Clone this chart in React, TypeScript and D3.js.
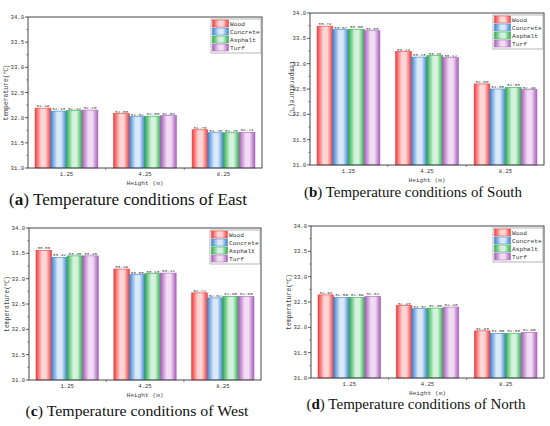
import React from 'react';
import * as d3 from 'd3';

const heights = ['1.25', '4.25', '8.25'];
const materials = ['Wood', 'Concrete', 'Asphalt', 'Turf'];

// values per height, one entry per material
const eastValues = [
  [32.19, 32.13, 32.14, 32.15],
  [32.08, 32.02, 32.03, 32.04],
  [31.76, 31.70, 31.70, 31.71],
];
const southValues = [
  [33.74, 33.67, 33.68, 33.65],
  [33.24, 33.13, 33.16, 33.12],
  [32.60, 32.50, 32.53, 32.49],
];
const westValues = [
  [33.56, 33.42, 33.45, 33.45],
  [33.19, 33.08, 33.10, 33.11],
  [32.72, 32.62, 32.65, 32.65],
];
const northValues = [
  [32.64, 32.59, 32.59, 32.61],
  [32.43, 32.37, 32.38, 32.40],
  [31.93, 31.88, 31.88, 31.90],
];

const yTicks = [31.0, 31.5, 32.0, 32.5, 33.0, 33.5, 34.0];

const edgeColors = ['#f23c3c', '#3d82cf', '#2fae4e', '#a95fba'];
const lightColors = ['#ffd6d6', '#d9e9f8', '#d4f2dc', '#f2dcf4'];

const monoFont = '"Liberation Mono", "DejaVu Sans Mono", monospace';
const serifFont = '"Liberation Serif", "DejaVu Serif", serif';

interface PanelProps {
  values: number[][];
  left: number;
  top: number;
  right: number;
  bottom: number;
  letter: string;
  direction: string;
  captionX: number;
  captionY: number;
  captionW: number;
  captionSize: number;
  flipLabel?: boolean;
}

const Panel: React.FC<PanelProps> = ({ values, left, top, right, bottom, letter, direction, captionX, captionY, captionW, captionSize, flipLabel }) => {
  const x = d3.scaleBand<string>().domain(heights).range([left, right]).paddingInner(0.2).paddingOuter(0.09);
  const xi = d3.scaleBand<string>().domain(materials).range([0, x.bandwidth()]);
  const y = d3.scaleLinear().domain([31, 34]).range([bottom, top]);
  const minor = d3.range(31.25, 34, 0.5);
  const fmt = d3.format('.1f');
  const bounds = heights.slice(1).map(h => (x(h) as number) - x.step() * 0.1);

  const legW = 50;
  const legX = right - legW - 1;
  const legY = top + 2;
  const rowH = 8;

  return (
    <g>
      {/* bars */}
      {heights.map((h, gi) => (
        <g key={h} transform={`translate(${x(h)},0)`}>
          {materials.map((m, mi) => {
            const v = values[gi][mi];
            return (
              <g key={m}>
                <rect
                  x={xi(m)}
                  y={y(v)}
                  width={xi.bandwidth()}
                  height={bottom - y(v)}
                  fill={`url(#grad${mi})`}
                  stroke={edgeColors[mi]}
                  strokeWidth={0.6}
                />
                <text
                  x={(xi(m) as number) + xi.bandwidth() / 2}
                  y={y(v) - 1}
                  textAnchor="middle"
                  fontSize={4.4}
                  fontFamily={monoFont}
                  fill="#333"
                >
                  {v.toFixed(2)}
                </text>
              </g>
            );
          })}
        </g>
      ))}

      {/* frame */}
      <rect x={left} y={top} width={right - left} height={bottom - top} fill="none" stroke="#333" strokeWidth={0.9} />

      {/* y ticks */}
      {yTicks.map(t => (
        <g key={t}>
          <line x1={left - 3} x2={left} y1={y(t)} y2={y(t)} stroke="#333" strokeWidth={0.8} />
          <text x={left - 4} y={y(t) + 2} textAnchor="end" fontSize={5.6} fontFamily={monoFont} fill="#333">
            {fmt(t)}
          </text>
        </g>
      ))}
      {minor.map(t => (
        <line key={t} x1={left - 1.6} x2={left} y1={y(t)} y2={y(t)} stroke="#333" strokeWidth={0.6} />
      ))}

      {/* x ticks */}
      {bounds.map((b, i) => (
        <line key={i} x1={b} x2={b} y1={bottom} y2={bottom + 2} stroke="#333" strokeWidth={0.6} />
      ))}
      {heights.map(h => (
        <text
          key={h}
          x={(x(h) as number) + x.bandwidth() / 2}
          y={bottom + 8}
          textAnchor="middle"
          fontSize={5.6}
          fontFamily={monoFont}
          fill="#333"
        >
          {h}
        </text>
      ))}

      {/* axis titles */}
      <text x={(left + right) / 2} y={bottom + 16.5} textAnchor="middle" fontSize={6.2} fontFamily={monoFont} fill="#444">
        Height (m)
      </text>
      <text
        transform={`translate(${left - 20},${(top + bottom) / 2}) rotate(${flipLabel ? 90 : -90})`}
        textAnchor="middle"
        fontSize={6.4}
        fontFamily={monoFont}
        fill="#444"
      >
        temperature(℃)
      </text>

      {/* legend */}
      <rect x={legX} y={legY} width={legW} height={rowH * 4 + 2} fill="#fff" stroke="#999" strokeWidth={0.7} />
      {materials.map((m, mi) => (
        <g key={m}>
          <rect
            x={legX + 1.5}
            y={legY + 1 + mi * rowH}
            width={16}
            height={rowH - 1}
            fill={`url(#grad${mi})`}
            stroke={edgeColors[mi]}
            strokeWidth={0.5}
          />
          <text x={legX + 19} y={legY + 6.5 + mi * rowH} fontSize={6.2} fontFamily={monoFont} fill="#333">
            {m}
          </text>
        </g>
      ))}

      {/* caption */}
      <text
        x={captionX}
        y={captionY}
        textAnchor="middle"
        fontSize={captionSize}
        fontFamily={serifFont}
        fill="#111"
        textLength={captionW}
        lengthAdjust="spacingAndGlyphs"
      >
        (<tspan fontWeight="bold">{letter}</tspan>) Temperature conditions of {direction}
      </text>
    </g>
  );
};

const App: React.FC = () => {
  return (
    <svg
      width={550}
      height={426}
      style={{ position: 'absolute', left: 0, top: 0, background: '#fff' }}
    >
      <defs>
        {materials.map((m, mi) => (
          <linearGradient key={m} id={`grad${mi}`} x1="0" x2="1" y1="0" y2="0">
            <stop offset="0%" stopColor={edgeColors[mi]} />
            <stop offset="40%" stopColor={lightColors[mi]} />
            <stop offset="65%" stopColor={lightColors[mi]} />
            <stop offset="100%" stopColor={edgeColors[mi]} />
          </linearGradient>
        ))}
      </defs>
      <rect width={550} height={426} fill="#fff" />
      <Panel values={eastValues} left={28} top={17} right={262} bottom={168} letter="a" direction="East" captionX={128} captionY={205} captionW={238} captionSize={16} />
      <Panel values={southValues} left={310} top={13} right={544} bottom={165} letter="b" direction="South" captionX={413} captionY={197} captionW={218} captionSize={14} flipLabel />
      <Panel values={westValues} left={29} top={228} right={261} bottom={380} letter="c" direction="West" captionX={137} captionY={416} captionW={223} captionSize={15} />
      <Panel values={northValues} left={311} top={226} right={544} bottom={378} letter="d" direction="North" captionX={416} captionY={409} captionW={219} captionSize={14} />
    </svg>
  );
};

export default App;
